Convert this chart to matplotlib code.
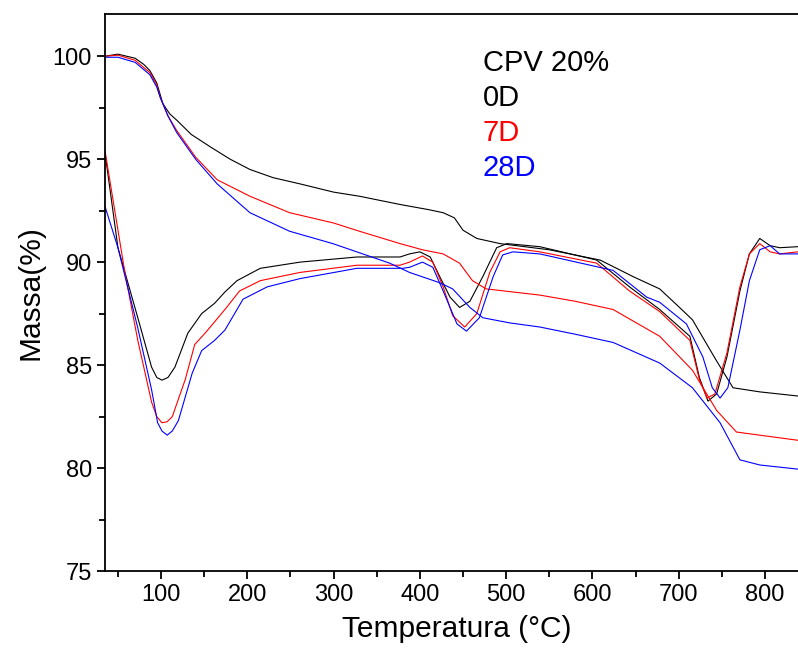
import numpy as np
import matplotlib
matplotlib.use('Agg')
import matplotlib.pyplot as plt
from matplotlib.ticker import MultipleLocator

plt.rcParams['font.family'] = ['Liberation Sans', 'DejaVu Sans']

# TG curves (mass %)
tg_0d_x = [35, 50, 70, 80, 87, 95, 102, 110, 118, 135, 157, 180, 203, 230, 261, 300, 330, 377, 410, 427, 440, 450, 466, 493, 550, 609, 647, 678, 701, 716, 744, 763, 794, 838]
tg_0d_y = [100, 100.1, 99.9, 99.6, 99.3, 98.7, 97.7, 97.2, 96.9, 96.2, 95.6, 95.0, 94.5, 94.1, 93.8, 93.4, 93.2, 92.8, 92.55, 92.4, 92.15, 91.55, 91.15, 90.9, 90.6, 90.1, 89.3, 88.7, 87.8, 87.2, 85.2, 83.9, 83.7, 83.5]
tg_7d_x = [35, 50, 70, 87, 95, 99, 108, 118, 140, 165, 203, 249, 300, 330, 377, 403, 427, 446, 461, 477, 539, 580, 624, 678, 716, 744, 767, 838]
tg_7d_y = [100, 100.05, 99.8, 99.2, 98.6, 98.0, 97.1, 96.4, 95.1, 94.0, 93.2, 92.4, 91.9, 91.5, 90.9, 90.6, 90.4, 89.95, 89.1, 88.7, 88.4, 88.1, 87.7, 86.4, 84.75, 82.8, 81.75, 81.35]
tg_28d_x = [35, 50, 70, 87, 95, 99, 108, 118, 140, 165, 203, 249, 299, 365, 388, 423, 438, 458, 473, 504, 539, 580, 624, 678, 716, 748, 771, 794, 838]
tg_28d_y = [99.95, 99.95, 99.7, 99.1, 98.5, 98.0, 97.1, 96.3, 95.0, 93.8, 92.4, 91.5, 90.9, 89.95, 89.5, 89.0, 88.7, 87.8, 87.3, 87.05, 86.85, 86.5, 86.1, 85.1, 83.9, 82.2, 80.4, 80.15, 79.95]

# DTG curves (scaled onto the same axis)
dtg_0d_x = [35, 50, 73, 89, 95, 101, 108, 116, 131, 147, 162, 174, 188, 215, 261, 327, 377, 388, 400, 412, 423, 435, 446, 458, 473, 489, 501, 539, 605, 643, 678, 713, 724, 734, 744, 756, 771, 782, 794, 806, 817, 838]
dtg_0d_y = [95.3, 90.7, 87.3, 84.9, 84.4, 84.27, 84.4, 84.9, 86.55, 87.5, 88.0, 88.55, 89.1, 89.7, 90.0, 90.25, 90.25, 90.4, 90.5, 90.25, 89.3, 88.3, 87.8, 88.1, 89.3, 90.7, 90.9, 90.75, 90.1, 88.8, 87.7, 86.4, 84.4, 83.25, 83.6, 85.4, 88.6, 90.4, 91.15, 90.8, 90.7, 90.75]
dtg_7d_x = [35, 58, 73, 89, 95, 101, 107, 113, 128, 139, 151, 174, 191, 215, 261, 327, 377, 388, 403, 415, 427, 438, 452, 466, 481, 493, 504, 539, 605, 643, 678, 713, 724, 733, 742, 756, 771, 782, 794, 806, 817, 838]
dtg_7d_y = [95.4, 89.5, 86.2, 83.2, 82.5, 82.2, 82.25, 82.5, 84.3, 86.0, 86.55, 87.7, 88.6, 89.1, 89.5, 89.85, 89.85, 90.0, 90.3, 90.0, 88.8, 87.4, 86.85, 87.5, 89.5, 90.5, 90.7, 90.5, 89.95, 88.6, 87.6, 86.2, 84.3, 83.4, 83.6, 85.6, 88.8, 90.4, 90.9, 90.5, 90.4, 90.5]
dtg_28d_x = [35, 50, 73, 89, 96, 101, 107, 113, 120, 136, 147, 162, 174, 195, 223, 261, 327, 380, 388, 403, 415, 427, 443, 454, 469, 485, 496, 508, 539, 624, 663, 678, 709, 728, 739, 748, 757, 771, 782, 794, 806, 817, 838]
dtg_28d_y = [92.7, 90.7, 86.8, 83.8, 82.2, 81.8, 81.6, 81.8, 82.3, 84.6, 85.7, 86.2, 86.7, 88.2, 88.8, 89.2, 89.7, 89.7, 89.75, 90.0, 89.75, 88.6, 87.0, 86.65, 87.3, 89.3, 90.35, 90.5, 90.4, 89.6, 88.3, 88.05, 87.0, 85.4, 83.9, 83.4, 83.9, 86.7, 89.1, 90.6, 90.8, 90.4, 90.4]

labels = ['0D', '7D', '28D']
colors = ['black', 'red', 'blue']

fig = plt.figure(figsize=(7.98, 6.6), dpi=100)
ax = fig.add_axes([0.1316, 0.1348, 0.881, 0.844])

for (tx, ty, dx, dy), c in zip([(tg_0d_x, tg_0d_y, dtg_0d_x, dtg_0d_y),
                                (tg_7d_x, tg_7d_y, dtg_7d_x, dtg_7d_y),
                                (tg_28d_x, tg_28d_y, dtg_28d_x, dtg_28d_y)], colors):
    ax.plot(tx, ty, color=c, lw=0.8)
    ax.plot(dx, dy, color=c, lw=0.8)

ax.set_xlim(35, 850)
ax.set_ylim(75, 102.05)
ax.xaxis.set_major_locator(MultipleLocator(100))
ax.xaxis.set_minor_locator(MultipleLocator(50))
ax.yaxis.set_major_locator(MultipleLocator(5))
ax.yaxis.set_minor_locator(MultipleLocator(2.5))
ax.tick_params(which='both', direction='out', width=1.3, labelsize=17, top=False, right=False)
ax.tick_params(which='major', length=6)
ax.tick_params(which='minor', length=4)
for s in ax.spines.values():
    s.set_linewidth(1.3)

ax.set_xlabel('Temperatura (°C)', fontsize=21.5, labelpad=6)
ax.set_ylabel('Massa(%)', fontsize=21.5, labelpad=6)

ax.text(473, 99.66, 'CPV 20%', fontsize=21, color='black', va='center')
for lab, c, yy in zip(labels, colors, [97.96, 96.26, 94.56]):
    ax.text(473, yy, lab, fontsize=21, color=c, va='center')

plt.savefig('out.png', dpi=100)
